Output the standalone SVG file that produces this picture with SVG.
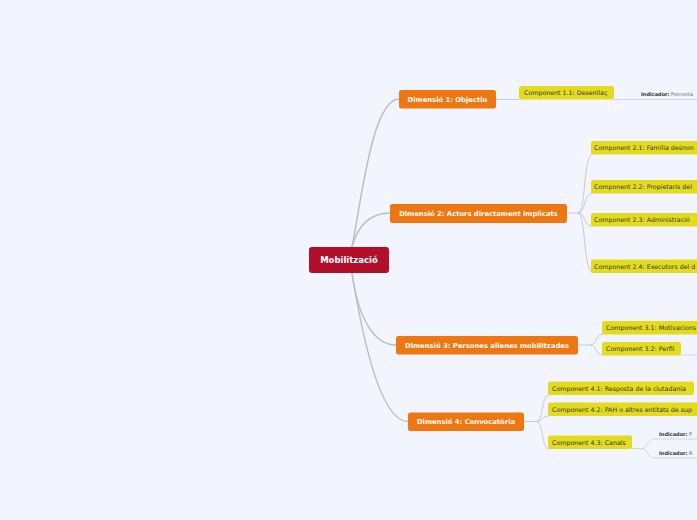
<svg xmlns="http://www.w3.org/2000/svg" width="697" height="520" viewBox="0 0 697 520">
<style>
.bg{fill:#F2F5FD}
.root rect{fill:#B30E2C}
.dim rect{fill:#EE7711}
.comp rect{fill:#E4DA1E}
.root text,.dim text{fill:#fff;font-family:"DejaVu Sans",Verdana,sans-serif;font-weight:bold;text-anchor:middle}
.root text{font-size:8.5px}
.dim text{font-size:6.8px}
.comp text{fill:#333;font-family:"DejaVu Sans",Verdana,sans-serif;font-size:6.3px}
.ind text{font-family:"DejaVu Sans",Verdana,sans-serif;font-size:5px;fill:#666}
.ind tspan.b{font-weight:bold;fill:#333}
.main{fill:none;stroke:#BDBEC3;stroke-width:1.5}
.sub{fill:none;stroke:#C8CAD2;stroke-width:1}
.under{fill:none;stroke:#D3D6DE;stroke-width:1}
</style>
<rect class="bg" width="697" height="520"/>
<g id="connectors">
<path class="main" d="M352,247 C362,195 373,99 399,99"/>
<path class="main" d="M352,247 C358,225 370,213 390,213"/>
<path class="main" d="M352,273 C358,318 374,345 396,345"/>
<path class="main" d="M352,273 C362,335 380,421.5 408,421.5"/>
<path class="sub" d="M496,99.5 L519,99.5"/>
<path class="under" d="M614,99.5 L697,99.5"/>
<path class="sub" d="M567,213 L578,213"/>
<path class="sub" d="M578,213 C586,213 583,154 593,154"/>
<path class="sub" d="M578,213 C586,213 583,193 593,193"/>
<path class="sub" d="M578,213 C586,213 583,226.5 593,226.5"/>
<path class="sub" d="M578,213 C586,213 583,272.5 593,272.5"/>
<path class="sub" d="M578,345 L590,345"/>
<path class="sub" d="M590,345 C597,345 595,334 603,334"/>
<path class="sub" d="M590,345 C597,345 595,355 603,355"/>
<path class="under" d="M681,355 L697,355"/>
<path class="sub" d="M524,421.5 L536,421.5"/>
<path class="sub" d="M536,421.5 C544,421.5 541,395 549,395"/>
<path class="sub" d="M536,421.5 C544,421.5 541,416 549,416"/>
<path class="sub" d="M536,421.5 C544,421.5 541,449 549,449"/>
<path class="under" d="M632,448.5 L642,448.5 C648,448.5 646,439 656,439 L697,439"/>
<path class="under" d="M642,448.5 C648,448.5 646,458 656,458 L697,458"/>
</g>
<g id="root" class="root"><rect x="309" y="247" width="80" height="26" rx="3"/><text x="349" y="263">Mobilització</text></g>
<g id="d1" class="dim"><rect x="399" y="90" width="97" height="18.5" rx="2.5"/><text x="447.5" y="101.8">Dimensió 1: Objectiu</text></g>
<g id="d2" class="dim"><rect x="390" y="204" width="177" height="19" rx="2.5"/><text x="478.5" y="216">Dimensió 2: Actors directament implicats</text></g>
<g id="d3" class="dim"><rect x="396" y="336" width="182" height="18.5" rx="2.5"/><text x="487" y="347.7">Dimensió 3: Persones alienes mobilitzades</text></g>
<g id="d4" class="dim"><rect x="408" y="412.5" width="116" height="18.5" rx="2.5"/><text x="466" y="424.2">Dimensió 4: Convocatòria</text></g>
<g id="c11" class="comp"><rect x="519" y="86" width="95" height="13.5" rx="2"/><text x="524" y="95">Component 1.1: Desenllaç</text></g>
<g id="c21" class="comp"><rect x="591" y="141" width="120" height="13.5" rx="2"/><text x="594" y="150">Component 2.1: Família desnon</text></g>
<g id="c22" class="comp"><rect x="591" y="180" width="120" height="13.5" rx="2"/><text x="594" y="189">Component 2.2: Propietaris del</text></g>
<g id="c23" class="comp"><rect x="591" y="213" width="120" height="13.5" rx="2"/><text x="594" y="222">Component 2.3: Administració</text></g>
<g id="c24" class="comp"><rect x="591" y="259.5" width="120" height="13.5" rx="2"/><text x="594" y="268.5">Component 2.4: Executors del d</text></g>
<g id="c31" class="comp"><rect x="602" y="321" width="110" height="13.5" rx="2"/><text x="606" y="330">Component 3.1: Motivacions</text></g>
<g id="c32" class="comp"><rect x="602" y="342" width="79" height="13.5" rx="2"/><text x="606" y="351">Component 3.2: Perfil</text></g>
<g id="c41" class="comp"><rect x="548" y="381.5" width="146" height="13.5" rx="2"/><text x="552" y="390.5">Component 4.1: Resposta de la ciutadania</text></g>
<g id="c42" class="comp"><rect x="548" y="402.5" width="160" height="13.5" rx="2"/><text x="552" y="411.5">Component 4.2: PAH o altres entitats de sup</text></g>
<g id="c43" class="comp"><rect x="548" y="435.5" width="84" height="13.5" rx="2"/><text x="552" y="444.5">Component 4.3: Canals</text></g>
<g id="i11" class="ind"><text x="641" y="95.5"><tspan class="b">Indicador:</tspan> Percenta</text></g>
<g id="i431" class="ind"><text x="659" y="435.5"><tspan class="b">Indicador:</tspan> P</text></g>
<g id="i432" class="ind"><text x="659" y="454.5"><tspan class="b">Indicador:</tspan> R</text></g>
</svg>
